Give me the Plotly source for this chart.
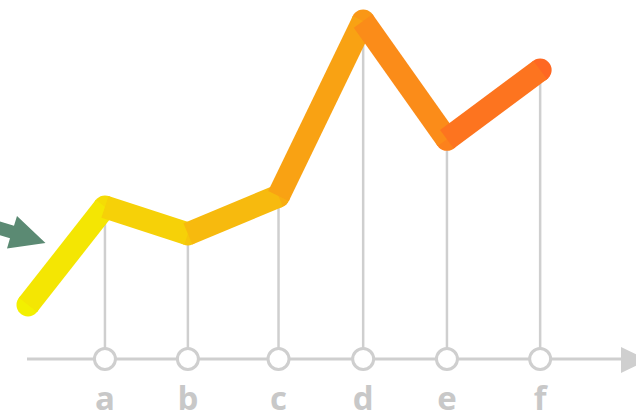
import plotly.graph_objects as go

# data
categories = ["", "a", "b", "c", "d", "e", "f"]
x_pos = [0, 0.9, 1.87, 2.93, 3.92, 4.9, 5.99]
values = [16, 45, 37, 48.2, 100, 65, 85.5]

W, H = 636, 410
PX_X = 85.5
PX_Y = 3.38
X0_PIX = 28
AX_PIX = 359

xr = [-X0_PIX / PX_X, (W - X0_PIX) / PX_X]
yr = [-(H - AX_PIX) / PX_Y, AX_PIX / PX_Y]

c_start = (243, 240, 0)
c_end = (254, 104, 34)


def grad(f):
    f = max(0, min(1, f))
    r, g, b = [round(a + (b_ - a) * f) for a, b_ in zip(c_start, c_end)]
    return f"rgb({r},{g},{b})"


xmax = x_pos[-1]
gray = "#cfcfcf"

fig = go.Figure()

# vertical drop lines
vx, vy = [], []
for x, v in zip(x_pos[1:], values[1:]):
    vx += [x, x, None]
    vy += [0, v, None]
fig.add_trace(go.Scatter(x=vx, y=vy, mode="lines",
                         line=dict(color=gray, width=2.5),
                         hoverinfo="skip", showlegend=False))

# axis base line
fig.add_shape(type="line", xref="x", yref="y",
              x0=-1 / PX_X, x1=(622 - X0_PIX) / PX_X, y0=0, y1=0,
              line=dict(color=gray, width=3), layer="below")


def P(px, py):
    return f"{px / W:.5f},{1 - py / H:.5f}"


# axis arrow head
fig.add_shape(type="path", xref="paper", yref="paper",
              path=f"M {P(621,347)} L {P(648,360)} L {P(621,373)} Z",
              fillcolor=gray, line=dict(width=0))

# circles on axis
fig.add_trace(go.Scatter(x=x_pos[1:], y=[0] * 6, mode="markers",
                         marker=dict(size=21, color="white",
                                     line=dict(color=gray, width=3)),
                         hoverinfo="skip", showlegend=False))

# category labels
fig.add_trace(go.Scatter(x=x_pos[1:], y=[-12.6] * 6, mode="text",
                         text=categories[1:], textposition="middle center",
                         textfont=dict(family="Open Sans", size=33,
                                       color="#c8c8c8", weight="bold"),
                         hoverinfo="skip", showlegend=False))

# round joins / caps
fig.add_trace(go.Scatter(x=x_pos, y=values, mode="markers",
                         marker=dict(size=23,
                                     color=[grad(x / xmax) for x in x_pos],
                                     line=dict(width=0)),
                         hoverinfo="skip", showlegend=False))

# thick gradient line, one segment per interval
for i in range(len(x_pos) - 1):
    mid = (x_pos[i] + x_pos[i + 1]) / 2
    fig.add_trace(go.Scatter(x=x_pos[i:i + 2], y=values[i:i + 2],
                             mode="lines",
                             line=dict(color=grad(mid / xmax), width=23),
                             hoverinfo="skip", showlegend=False))

# green pointer arrow (decoration)
arrow = [(-45, 208), (14, 225.8), (17, 216), (45.5, 243), (7, 248.5),
         (10, 238.2), (-49, 220.5)]
path = "M " + " L ".join(P(a, b) for a, b in arrow) + " Z"
fig.add_shape(type="path", xref="paper", yref="paper", path=path,
              fillcolor="#5b8a73", line=dict(width=0))

fig.update_layout(width=W, height=H, margin=dict(l=0, r=0, t=0, b=0),
                  paper_bgcolor="white", plot_bgcolor="white",
                  hovermode=False,
                  xaxis=dict(range=xr, visible=False, fixedrange=True),
                  yaxis=dict(range=yr, visible=False, fixedrange=True))

fig.write_html("out.html",
               config={"displayModeBar": False},
               post_script="document.body.style.margin='0';"
                           "document.body.style.overflow='hidden';")
